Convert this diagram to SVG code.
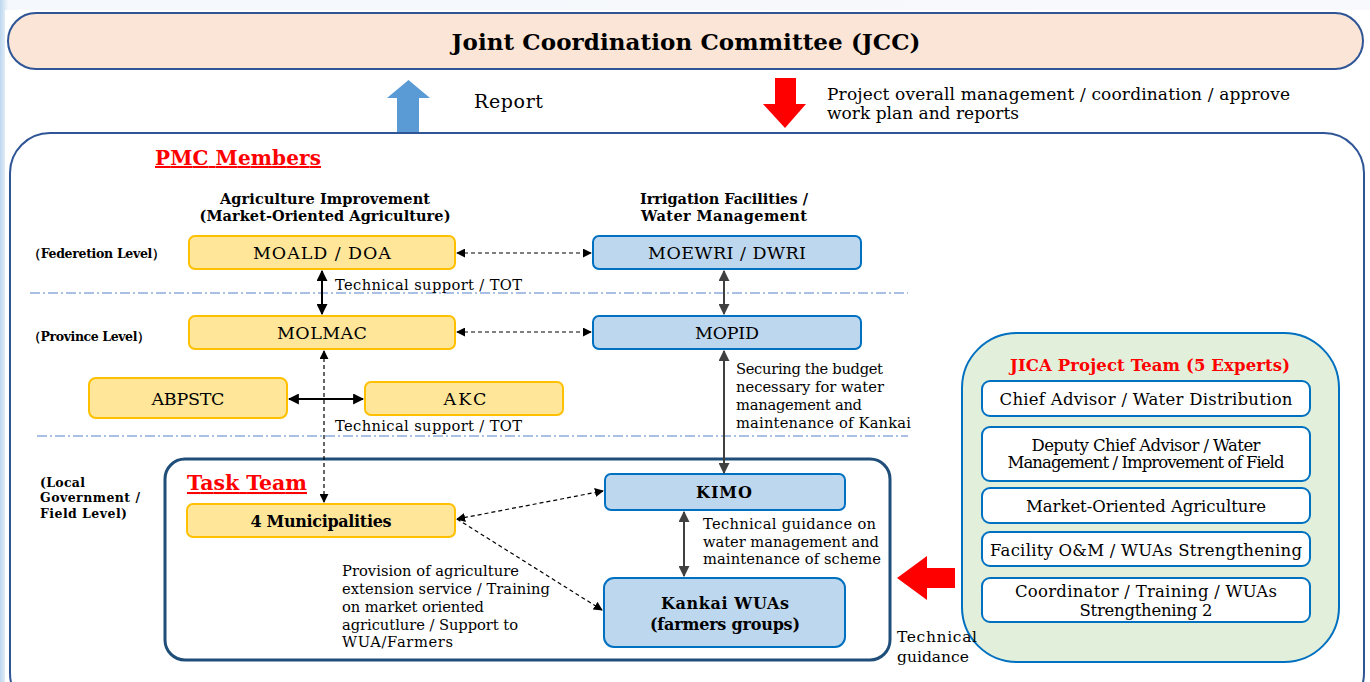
<svg xmlns="http://www.w3.org/2000/svg" width="1370" height="682" viewBox="0 0 1370 682">
<defs>
<linearGradient id="bg" x1="0" y1="0" x2="1" y2="0">
<stop offset="0" stop-color="#bdd7ee"/><stop offset="0.006" stop-color="#f5f8fc"/><stop offset="1" stop-color="#f7f9fc"/>
</linearGradient>
<marker id="ah" viewBox="0 0 10 10" refX="9" refY="5" markerWidth="9" markerHeight="9" markerUnits="userSpaceOnUse" orient="auto-start-reverse"><path d="M0,0 L10,5 L0,10 z" fill="#000"/></marker>
<marker id="ahg" viewBox="0 0 10 10" refX="9" refY="5" markerWidth="11" markerHeight="11" markerUnits="userSpaceOnUse" orient="auto-start-reverse"><path d="M0,0 L10,5 L0,10 z" fill="#404040"/></marker>
<marker id="ahb" viewBox="0 0 10 10" refX="9" refY="5" markerWidth="11" markerHeight="11" markerUnits="userSpaceOnUse" orient="auto-start-reverse"><path d="M0,0 L10,5 L0,10 z" fill="#000"/></marker>
</defs>
<style>
text{font-family:"DejaVu Serif","Liberation Serif",serif;fill:#000}
.y{fill:#ffe699;stroke:#ffc000;stroke-width:2}
.b{fill:#bdd7ee;stroke:#0070c0;stroke-width:2}
.w{fill:#fff;stroke:#0070c0;stroke-width:2}
.n{font-size:17.5px;text-anchor:middle}
.nb{font-size:16px;text-anchor:middle;font-weight:bold}
.h{font-size:14.5px;text-anchor:middle;font-weight:bold}
.lv{font-size:12.5px;font-weight:bold}
.lb{font-size:14.7px}
.j{font-size:16.5px;text-anchor:middle}
.red{fill:#ff0000;font-weight:bold;text-decoration:underline}
.dd{stroke:#000;stroke-width:1.2;stroke-dasharray:4 3;fill:none}
.sd{stroke:#000;stroke-width:2;fill:none}
.gd{stroke:#404040;stroke-width:2;fill:none}
.dl{stroke:#8faadc;stroke-width:1.3;stroke-dasharray:10 3 2 3;fill:none}
</style>
<rect x="0" y="0" width="1370" height="682" fill="url(#bg)"/>
<rect x="5" y="10" width="1365" height="672" fill="#fff"/>

<g id="jcc">
<rect x="8" y="13" width="1355" height="56" rx="28" fill="#fbe5d6" stroke="#2f5597" stroke-width="2"/>
<text x="686" y="50" font-size="23" font-weight="bold" text-anchor="middle" textLength="469" lengthAdjust="spacing">Joint Coordination Committee (JCC)</text>
</g>

<g id="report-arrow">
<path d="M397,132 L397,98 L387,98 L408.5,80 L430,98 L419,98 L419,132 z" fill="#5b9bd5"/>
<text x="474" y="108" font-size="19" textLength="69" lengthAdjust="spacing">Report</text>
</g>
<g id="mgmt-arrow">
<path d="M775,78 L796,78 L796,104 L806,104 L785,128 L763,104 L775,104 z" fill="#ff0000"/>
<text x="827" y="100" font-size="17" textLength="463" lengthAdjust="spacing">Project overall management  / coordination / approve</text>
<text x="827" y="119" font-size="17" textLength="192" lengthAdjust="spacing">work plan and reports</text>
</g>

<g id="pmc">
<rect x="10" y="133" width="1354" height="580" rx="40" fill="#fff" stroke="#2f5597" stroke-width="2"/>
<text x="155" y="165" font-size="20" class="red" textLength="166" lengthAdjust="spacing">PMC Members</text>
<text x="325" y="204" class="h" textLength="210" lengthAdjust="spacing">Agriculture Improvement</text>
<text x="325" y="221" class="h" textLength="251" lengthAdjust="spacing">(Market-Oriented Agriculture)</text>
<text x="724" y="204" class="h" textLength="168" lengthAdjust="spacing">Irrigation Facilities /</text>
<text x="724" y="221" class="h" textLength="166" lengthAdjust="spacing">Water Management</text>
<text x="28" y="258" class="lv" textLength="137" lengthAdjust="spacing">（Federetion Level）</text>
<text x="28" y="341" class="lv" textLength="122" lengthAdjust="spacing">（Province Level）</text>
<text x="40" y="487" class="lv" textLength="45" lengthAdjust="spacing">(Local</text>
<text x="40" y="502" class="lv" textLength="100" lengthAdjust="spacing">Government /</text>
<text x="40" y="518" class="lv" textLength="87" lengthAdjust="spacing">Field Level)</text>
<line x1="30" y1="293" x2="908" y2="293" class="dl"/>
<line x1="37" y1="436" x2="908" y2="436" class="dl"/>
</g>

<g id="task-team">
<rect x="165" y="459" width="725" height="201" rx="20" fill="#fff" stroke="#1f4e79" stroke-width="3"/>
<text x="187" y="490" font-size="20.5" class="red" textLength="120" lengthAdjust="spacing">Task Team</text>
</g>

<g id="moald"><rect x="189" y="236" width="266" height="33" rx="6" class="y"/><text x="322" y="259" class="n" textLength="138" lengthAdjust="spacing">MOALD / DOA</text></g>
<g id="moewri"><rect x="593" y="236" width="268" height="33" rx="6" class="b"/><text x="727" y="259" class="n" textLength="158" lengthAdjust="spacing">MOEWRI / DWRI</text></g>
<g id="molmac"><rect x="189" y="316" width="266" height="33" rx="6" class="y"/><text x="322" y="339" class="n" textLength="90" lengthAdjust="spacing">MOLMAC</text></g>
<g id="mopid"><rect x="593" y="316" width="268" height="33" rx="6" class="b"/><text x="727" y="339" class="n" textLength="64" lengthAdjust="spacing">MOPID</text></g>
<g id="abpstc"><rect x="89" y="378" width="198" height="40" rx="7" class="y"/><text x="188" y="405" class="n" font-size="16" textLength="73" lengthAdjust="spacing">ABPSTC</text></g>
<g id="akc"><rect x="365" y="382" width="198" height="33" rx="6" class="y"/><text x="465" y="405" class="n" textLength="43" lengthAdjust="spacing">AKC</text></g>
<g id="municipalities"><rect x="187" y="504" width="268" height="33" rx="6" class="y"/><text x="321" y="527" class="nb" textLength="141" lengthAdjust="spacing">4 Municipalities</text></g>
<g id="kimo"><rect x="605" y="474" width="240" height="36" rx="6" class="b"/><text x="724" y="498" class="nb" font-size="16.5" textLength="56" lengthAdjust="spacing">KIMO</text></g>
<g id="kankai"><rect x="604" y="578" width="241" height="69" rx="10" class="b"/><text x="725" y="609" class="nb" font-size="17.5" textLength="128" lengthAdjust="spacing">Kankai WUAs</text><text x="725" y="630" class="nb" font-size="17" textLength="150" lengthAdjust="spacing">(farmers groups)</text></g>

<g id="jica">
<rect x="962" y="333" width="377" height="329" rx="55" fill="#e2efda" stroke="#0070c0" stroke-width="2"/>
<text x="1150" y="371" font-size="16.5" text-anchor="middle" font-weight="bold" style="fill:#ff0000" textLength="280" lengthAdjust="spacing">JICA Project Team (5 Experts)</text>
<rect x="982" y="381" width="328" height="35" rx="8" class="w"/>
<text x="1146" y="405" class="j" font-size="17.5" textLength="293" lengthAdjust="spacing">Chief Advisor / Water Distribution</text>
<rect x="982" y="427" width="328" height="54" rx="8" class="w"/>
<text x="1146" y="451" class="j" font-size="13.5" textLength="229" lengthAdjust="spacing">Deputy Chief Advisor / Water</text>
<text x="1146" y="468" class="j" font-size="13.5" textLength="277" lengthAdjust="spacing">Management / Improvement of Field</text>
<rect x="982" y="488" width="328" height="35" rx="8" class="w"/>
<text x="1146" y="512" class="j" textLength="240" lengthAdjust="spacing">Market-Oriented Agriculture</text>
<rect x="982" y="532" width="328" height="34" rx="8" class="w"/>
<text x="1146" y="556" class="j" textLength="312" lengthAdjust="spacing">Facility O&amp;M / WUAs Strengthening</text>
<rect x="982" y="578" width="328" height="44" rx="8" class="w"/>
<text x="1146" y="597" class="j" textLength="262" lengthAdjust="spacing">Coordinator / Training / WUAs</text>
<text x="1146" y="616" class="j" textLength="133" lengthAdjust="spacing">Strengthening  2</text>
</g>

<g id="guidance-arrow">
<path d="M955,568 L927,568 L927,556 L897,578 L927,600 L927,588 L955,588 z" fill="#ff0000"/>
<text x="897" y="642" font-size="15.5" textLength="80" lengthAdjust="spacing">Technical</text>
<text x="897" y="662" font-size="15.5" textLength="72" lengthAdjust="spacing">guidance</text>
</g>

<g id="connectors">
<line x1="457" y1="253" x2="591" y2="253" class="dd" marker-start="url(#ah)" marker-end="url(#ah)"/>
<line x1="457" y1="332" x2="591" y2="332" class="dd" marker-start="url(#ah)" marker-end="url(#ah)"/>
<line x1="322" y1="271" x2="322" y2="314" class="sd" marker-start="url(#ahb)" marker-end="url(#ahb)"/>
<line x1="724" y1="271" x2="724" y2="314" class="gd" marker-start="url(#ahg)" marker-end="url(#ahg)"/>
<line x1="289" y1="399" x2="363" y2="399" class="sd" marker-start="url(#ahb)" marker-end="url(#ahb)"/>
<line x1="324" y1="351" x2="324" y2="502" class="dd" marker-start="url(#ah)" marker-end="url(#ah)"/>
<line x1="724" y1="351" x2="724" y2="473" class="gd" marker-start="url(#ahg)" marker-end="url(#ahg)"/>
<line x1="684" y1="512" x2="684" y2="576" class="gd" marker-start="url(#ahg)" marker-end="url(#ahg)"/>
<line x1="457" y1="519" x2="603" y2="491" class="dd" marker-start="url(#ah)" marker-end="url(#ah)"/>
<line x1="457" y1="519" x2="602" y2="610" class="dd" marker-end="url(#ah)"/>
<text x="335" y="290" class="lb" textLength="187" lengthAdjust="spacing">Technical support / TOT</text>
<text x="335" y="431" class="lb" textLength="187" lengthAdjust="spacing">Technical support / TOT</text>
<text x="736" y="374" class="lb" textLength="147" lengthAdjust="spacing">Securing the budget</text>
<text x="736" y="392" class="lb" textLength="148" lengthAdjust="spacing">necessary for water</text>
<text x="736" y="410" class="lb" textLength="126" lengthAdjust="spacing">management and</text>
<text x="736" y="428" class="lb" textLength="175" lengthAdjust="spacing">maintenance of Kankai</text>
<text x="703" y="529" class="lb" textLength="173" lengthAdjust="spacing">Technical guidance on</text>
<text x="703" y="547" class="lb" textLength="176" lengthAdjust="spacing">water management and</text>
<text x="703" y="564" class="lb" textLength="178" lengthAdjust="spacing">maintenance of scheme</text>
<text x="342" y="576" class="lb" textLength="177" lengthAdjust="spacing">Provision of agriculture</text>
<text x="342" y="594" class="lb" textLength="208" lengthAdjust="spacing">extension service / Training</text>
<text x="342" y="612" class="lb" textLength="142" lengthAdjust="spacing">on market oriented</text>
<text x="342" y="630" class="lb" textLength="176" lengthAdjust="spacing">agricutlure / Support to</text>
<text x="342" y="647" class="lb" textLength="111" lengthAdjust="spacing">WUA/Farmers</text>
</g>
</svg>
